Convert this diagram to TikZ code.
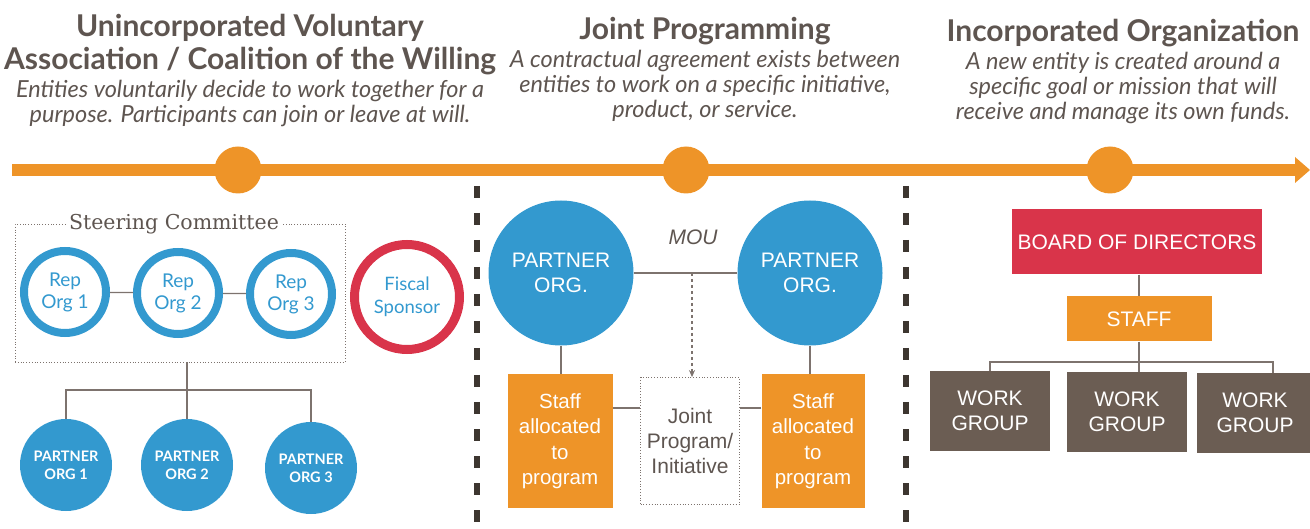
\documentclass[tikz,border=0pt]{standalone}
\usepackage{fontspec}
\setmainfont{Lato}
\newfontfamily\arialf{Liberation Sans}
\newfontfamily\seriff{DejaVu Serif}
\usetikzlibrary{arrows.meta}
\definecolor{cblue}{RGB}{51,153,207}
\definecolor{corange}{RGB}{238,148,40}
\definecolor{cred}{RGB}{217,52,74}
\definecolor{cbrown}{RGB}{107,93,83}
\definecolor{ctext}{RGB}{94,85,80}
\definecolor{csep}{RGB}{61,54,48}
\definecolor{cline}{RGB}{125,115,110}
\begin{document}
\begin{tikzpicture}[x=1pt,y=-1pt,
  title/.style={text=ctext,font=\fontsize{30}{34}\selectfont\bfseries,inner sep=0pt},
  subt/.style={text=ctext,font=\fontsize{23.5}{25}\selectfont\itshape,align=center,inner sep=0pt},
  tdot/.style={circle,fill=corange,minimum size=47pt,inner sep=0pt},
  sepline/.style={line width=6pt,color=csep,dash pattern=on 12pt off 15pt},
  conn/.style={draw=cline,line width=1.2pt},
  rep/.style={circle,draw=cblue,line width=8pt,minimum size=82pt,inner sep=0pt,align=center,text=cblue,font=\fontsize{19}{22}\selectfont},
  fiscal/.style={circle,draw=cred,line width=9pt,minimum size=105pt,inner sep=0pt,align=center,text=cblue,font=\fontsize{18.5}{23}\selectfont},
  psmall/.style={circle,fill=cblue,minimum size=92pt,inner sep=0pt,align=center,text=white,font=\fontsize{14.5}{18}\selectfont\bfseries},
  pbig/.style={circle,fill=cblue,minimum size=145pt,inner sep=0pt,align=center,text=white,font=\arialf\fontsize{21}{25}\selectfont},
  stbox/.style={rectangle,fill=corange,inner sep=0pt,align=center,text=white,font=\arialf\fontsize{20.5}{25.5}\selectfont},
  wbox/.style={rectangle,fill=cbrown,minimum width=120pt,minimum height=79pt,inner sep=0pt,align=center,text=white,font=\arialf\fontsize{21}{25}\selectfont},
  dotbox/.style={rectangle,draw=cline,dotted,line width=0.8pt,inner sep=0pt}
]
\useasboundingbox (0,0) rectangle (1310,529);

% titles
\node[title] (t1a) at (250,28) {Unincorporated Voluntary};
\node[title] (t1b) at (250,61) {Association / Coalition of the Willing};
\node[subt] (s1) at (250,103) {Entities voluntarily decide to work together for a\\purpose. Participants can join or leave at will.};
\node[title] (t2) at (705,31) {Joint Programming};
\node[subt] (s2) at (705,86) {A contractual agreement exists between\\entities to work on a specific initiative,\\product, or service.};
\node[title] (t3) at (1123,33) {Incorporated Organization};
\node[subt] (s3) at (1123,88) {A new entity is created around a\\specific goal or mission that will\\receive and manage its own funds.};

% timeline
\draw[corange,line width=12pt] (12,170) -- (1297,170);
\fill[corange] (1295,157) -- (1310,170) -- (1295,183) -- cycle;
\node[tdot] (d1) at (238,170) {};
\node[tdot] (d2) at (686,170) {};
\node[tdot] (d3) at (1110,170) {};

% separators
\draw[sepline] (477,186) -- (477,529);
\draw[sepline] (906,186) -- (906,529);

% left section
\node[dotbox,minimum width=330pt,minimum height=138pt] (sc) at (180,293) {};
\node[fill=white,inner sep=3pt,text=ctext,font=\seriff\fontsize{20.5}{24}\selectfont] (scl) at (174,224) {Steering Committee};
\node[rep] (r1) at (65,292) {Rep\\Org 1};
\node[rep] (r2) at (178,293) {Rep\\Org 2};
\node[rep] (r3) at (291,294) {Rep\\Org 3};
\node[fiscal] (fs) at (407,297) {Fiscal\\Sponsor};
\draw[conn] (r1) -- (r2);
\draw[conn] (r2) -- (r3);
\node[psmall] (p1) at (66,465) {PARTNER\\ORG 1};
\node[psmall] (p2) at (187,465) {PARTNER\\ORG 2};
\node[psmall] (p3) at (311,468) {PARTNER\\ORG 3};
\coordinate (lb) at (187,390);
\draw[conn] (p2 |- sc.south) -- (p2.north);
\draw[conn] (p1.north) |- (lb) -| (p3.north);

% middle section
\node[pbig] (m1) at (561,273) {PARTNER\\ORG.};
\node[pbig] (m2) at (810,273) {PARTNER\\ORG.};
\node[text=ctext,font=\arialf\fontsize{21}{24}\selectfont\itshape] (mou) at (693,237) {MOU};
\draw[conn] (m1) -- (m2);
\node[dotbox,minimum width=99pt,minimum height=127pt,align=center,text=ctext,font=\arialf\fontsize{21}{25}\selectfont] (jp) at (690,441) {Joint\\Program/\\Initiative};
\draw[conn,dashed,-{Stealth[length=7pt,width=6pt]}] ([xshift=2pt]jp.north |- m1) -- ([xshift=2pt]jp.north);
\node[stbox,minimum width=105pt,minimum height=133pt] (sa) at (560,441) {Staff\\allocated\\to\\program};
\node[stbox,minimum width=103pt,minimum height=133pt] (sb) at (813,441) {Staff\\allocated\\to\\program};
\draw[conn] (m1.south) -- (m1.south |- sa.north);
\draw[conn] (m2.south) -- (m2.south |- sb.north);
\draw[conn] ([yshift=33pt]sa.east) -- ([yshift=33pt]sa.east -| jp.west);
\draw[conn] ([yshift=33pt]sb.west) -- ([yshift=33pt]sb.west -| jp.east);

% right section
\node[rectangle,fill=cred,minimum width=250pt,minimum height=65pt,text=white,font=\arialf\fontsize{21}{24}\selectfont] (bd) at (1137,242) {BOARD OF DIRECTORS};
\node[stbox,minimum width=145pt,minimum height=45pt,font=\arialf\fontsize{21}{24}\selectfont] (st) at (1139,319) {STAFF};
\draw[conn] (bd.south -| st) -- (st.north);
\node[wbox] (w1) at (990,411) {WORK\\GROUP};
\node[wbox] (w2) at (1127,412) {WORK\\GROUP};
\node[wbox,minimum width=116pt] (w3) at (1255,413) {WORK\\GROUP};
\coordinate (rb) at (1139,362);
\draw[conn] (st.south) -- (rb) -- (rb |- w2.north);
\draw[conn] (w1.north) |- (rb) -| ([xshift=18pt]w3.north);
\end{tikzpicture}
\end{document}
